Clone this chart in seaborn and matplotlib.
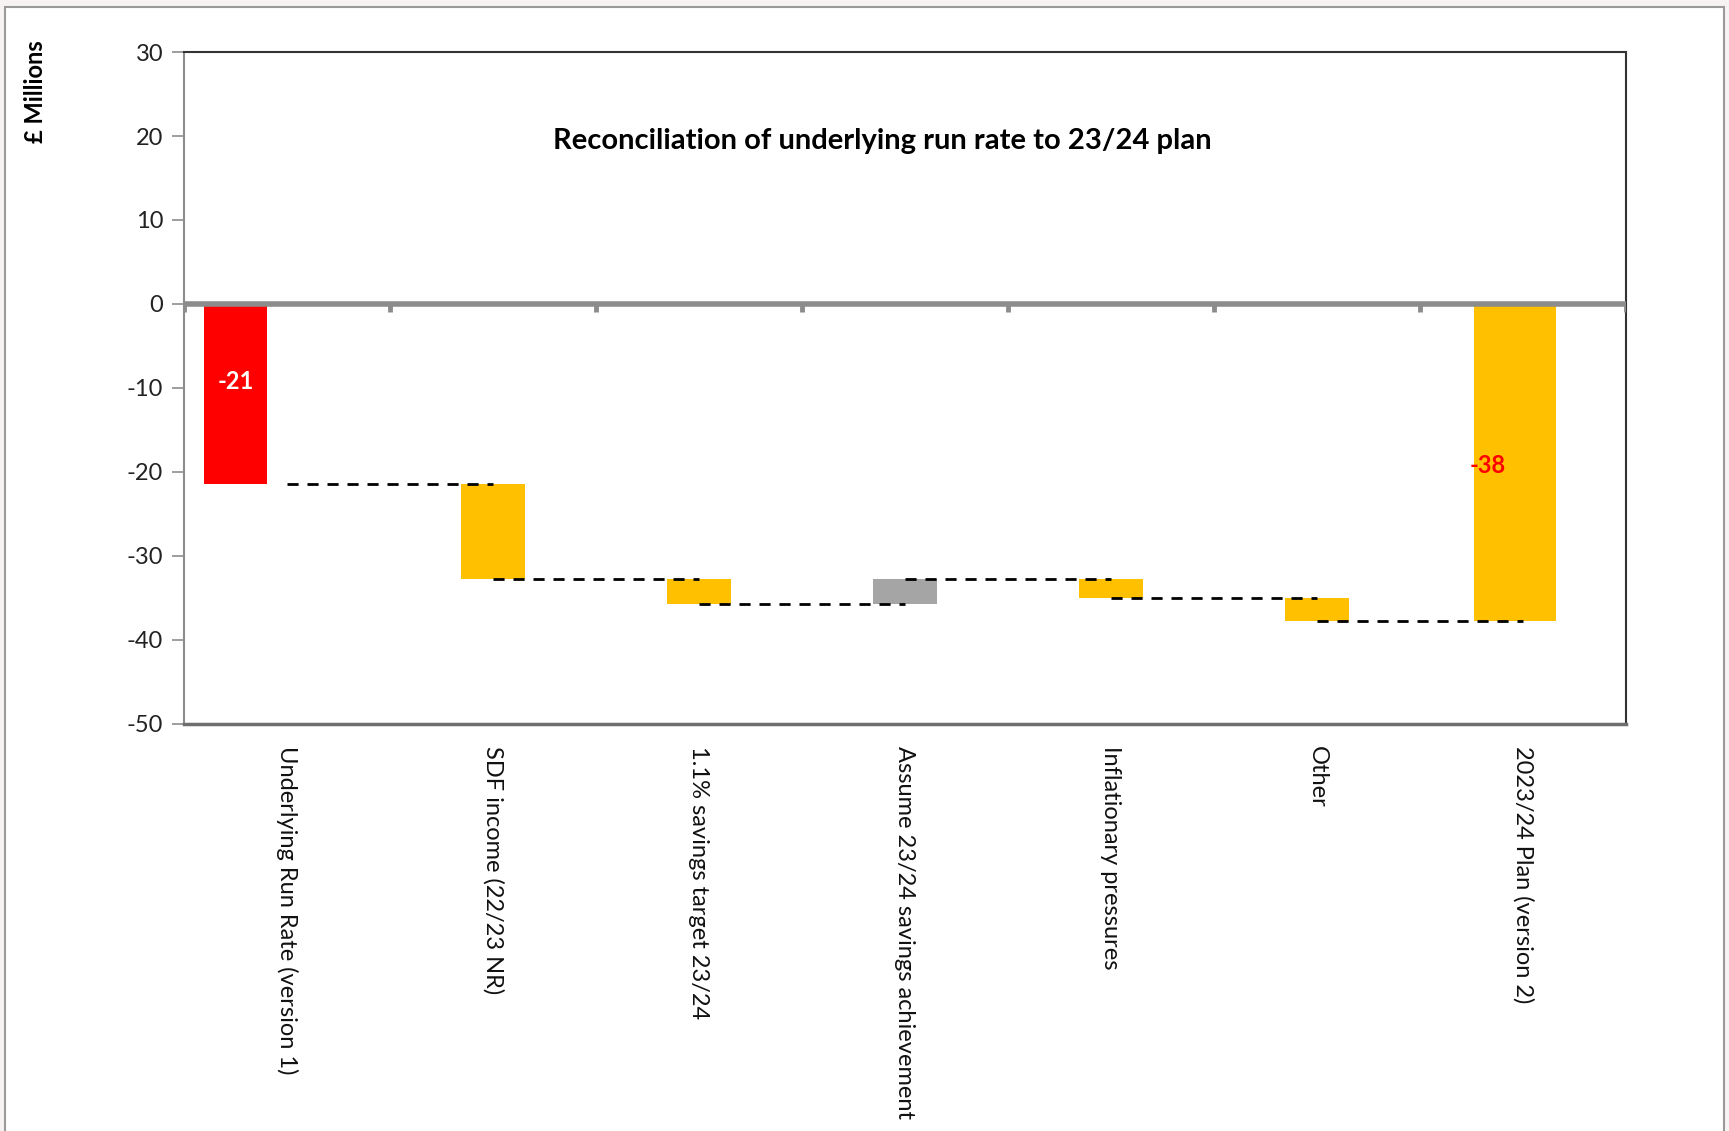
import numpy as np
import pandas as pd
import matplotlib
matplotlib.use('Agg')
import matplotlib.pyplot as plt
from matplotlib.patches import Rectangle
import seaborn as sns

# Chart data (£ millions)
categories = ['Underlying Run Rate (version 1)', 'SDF income (22/23 NR)', '1.1% savings target 23/24',
              'Assume 23/24 savings achievement', 'Inflationary pressures', 'Other', '2023/24 Plan (version 2)']
values = [-21.4, -11.3, -3.0, 3.0, -2.3, -2.8, -37.8]
is_total = [True, False, False, False, False, False, True]
bar_colors = ['#FF0000', '#FFC000', '#FFC000', '#A5A5A5', '#FFC000', '#FFC000', '#FFC000']
bar_labels = ['-21', '', '', '', '', '', '-38']
label_colors = ['white', 'black', 'black', 'black', 'black', 'black', '#FF0000']
yticks = [-50, -40, -30, -20, -10, 0, 10, 20, 30]

# Work out floating bar bottoms and running levels
bottoms = []
levels = []
running = 0.0
for v, tot in zip(values, is_total):
    if tot:
        bottoms.append(0.0)
        running = v
    else:
        bottoms.append(running)
        running = running + v
    levels.append(running)

df = pd.DataFrame({'category': categories, 'value': values})

sns.set_theme(style='white')
plt.rcParams['font.family'] = ['Lato', 'DejaVu Sans']

fig = plt.figure(figsize=(17.29, 11.31), dpi=100)
fig.patch.set_facecolor('#F6F3F2')
fig.patches.append(Rectangle((0.003, -0.01), 0.994, 1.004, transform=fig.transFigure,
                             facecolor='white', edgecolor='#9A9A9A', lw=1.5, zorder=-1))

ax = fig.add_axes([0.1064, 0.360, 0.834, 0.594])
sns.barplot(data=df, x='category', y='value', hue='category', palette=bar_colors,
            legend=False, saturation=1, width=0.31, ax=ax, zorder=3)

# move each bar to float at its running level
shift = {0: -0.25, 6: -0.04}
for i, patch in enumerate(ax.patches):
    patch.set_y(bottoms[i])
    patch.set_height(values[i])
    w = 0.40 if i == len(values) - 1 else 0.31
    patch.set_width(w)
    patch.set_x(i - w / 2 + shift.get(i, 0))
    patch.set_edgecolor('none')

# dashed connectors between category centres
for i in range(len(values) - 1):
    ax.plot([i, i + 1], [levels[i], levels[i]], color='black', lw=2, ls=(0, (4, 3.2)), zorder=4)

# value labels on the total bars
label_shift = {0: -0.25, 6: -0.17}
label_frac = {0: 0.43, 6: 0.51}
for i, lab in enumerate(bar_labels):
    if lab:
        ax.text(i + label_shift[i], values[i] * label_frac[i], lab, ha='center', va='center',
                fontsize=17, fontweight='bold', color=label_colors[i], zorder=5)

# zero axis line with category tick marks
ax.axhline(0, color='#8C8C8C', lw=4, zorder=6)
for b in np.arange(len(categories) + 1) - 0.5:
    ax.plot([b, b], [0, -0.9], color='#8C8C8C', lw=3.5, solid_capstyle='butt', zorder=6)

ax.set_xlim(-0.5, len(categories) - 0.5)
ax.set_ylim(-50, 30)
ax.set_yticks(yticks)
ax.set_yticklabels([str(t) for t in yticks], fontsize=17, color='#222222')
ax.tick_params(axis='y', which='major', direction='out', length=9, width=1.2, color='#8C8C8C', left=True, pad=6)
ax.tick_params(axis='x', which='major', length=0, pad=16)
ax.set_xticks(range(len(categories)))
ax.set_xticklabels(categories, rotation=-90, ha='center', va='top', fontsize=17, color='#111111')
ax.set_xlabel('')
ax.set_ylabel('')

for side in ['top', 'right']:
    ax.spines[side].set_color('#333333')
    ax.spines[side].set_linewidth(1.5)
ax.spines['left'].set_color('#8C8C8C')
ax.spines['left'].set_linewidth(1.5)
ax.spines['bottom'].set_color('#6E6E6E')
ax.spines['bottom'].set_linewidth(2.5)

ax.text(0.484, 0.867, 'Reconciliation of underlying run rate to 23/24 plan', transform=ax.transAxes,
        ha='center', va='center', fontsize=21, fontweight='bold', color='black')

fig.text(0.0205, 0.919, '£ Millions', rotation=90, ha='center', va='center',
         fontsize=17, fontweight='bold', color='black')

plt.savefig('out.png', dpi=100, facecolor=fig.get_facecolor())
plt.close()
